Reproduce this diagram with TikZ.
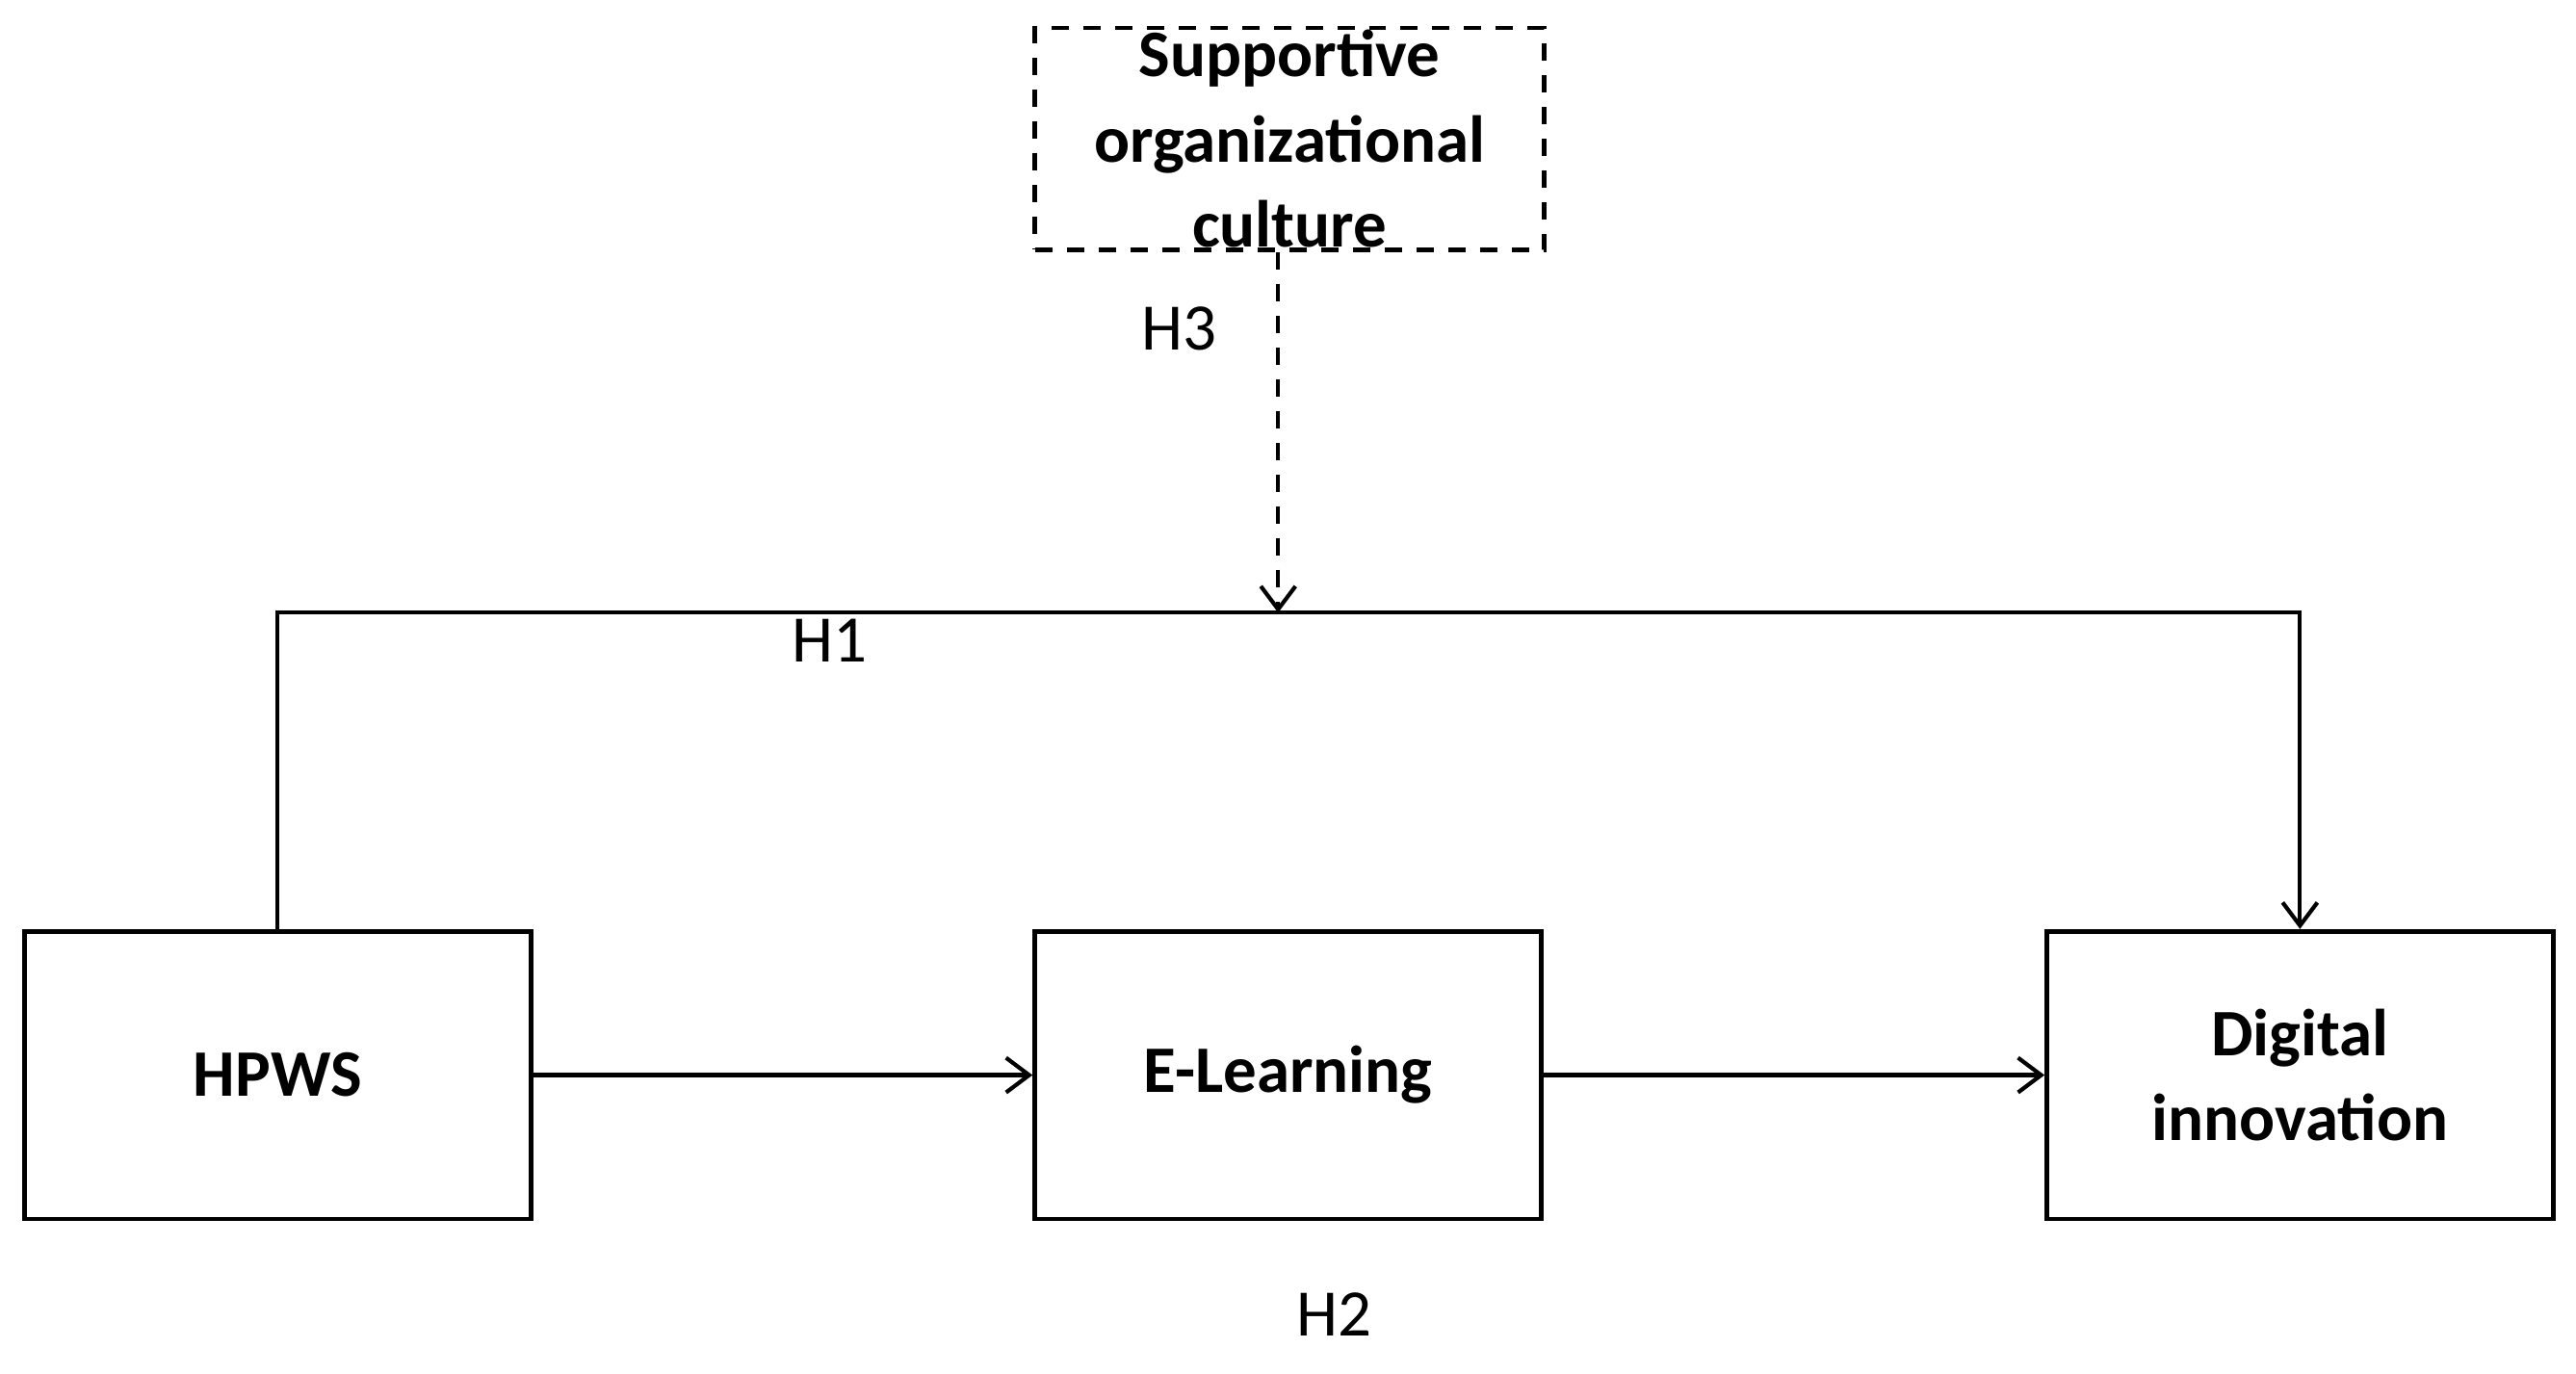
\documentclass[tikz,border=0pt]{standalone}
\usepackage{fontspec}
\setmainfont{Carlito}
\usetikzlibrary{arrows.meta}
\begin{document}
\begin{tikzpicture}[x=0.01cm,y=-0.01cm,
  box/.style={draw,line width=0.8pt,minimum width=3.08cm,minimum height=1.75cm,inner sep=0pt,align=center,font=\fontsize{11.5}{14.8}\selectfont\bfseries},
  dbox/.style={box,dashed,dash pattern=on 3pt off 2.5pt,minimum height=1.35cm,minimum width=3.1cm},
  arr/.style={line width=0.7pt,-{Straight Barb[length=4pt,width=6pt]}},
  lab/.style={font=\fontsize{11.5}{14}\selectfont}]
\useasboundingbox (0,0) rectangle (1568,836);
\node[dbox] (s) at (785,84.5) {Supportive\\organizational\\culture};
\node[box] (h) at (169,654.5) {HPWS};
\node[box] (e) at (784,654.5) {E-Learning};
\node[box] (d) at (1400,654.5) {Digital\\innovation};
\coordinate (m) at (778,373);
\draw[arr] (h.north) -- (169,373) -- (1400,373) -- (d.north);
\draw[arr,dashed,dash pattern=on 3pt off 2.5pt] (s.south -| m) -- (m);
\draw[arr] (h.east) -- (e.west);
\draw[arr] (e.east) -- (d.west);
\node[lab] (h3) at (718,200) {H3};
\node[lab] (h1) at (505,390) {H1};
\node[lab] (h2) at (812,800) {H2};
\end{tikzpicture}
\end{document}
